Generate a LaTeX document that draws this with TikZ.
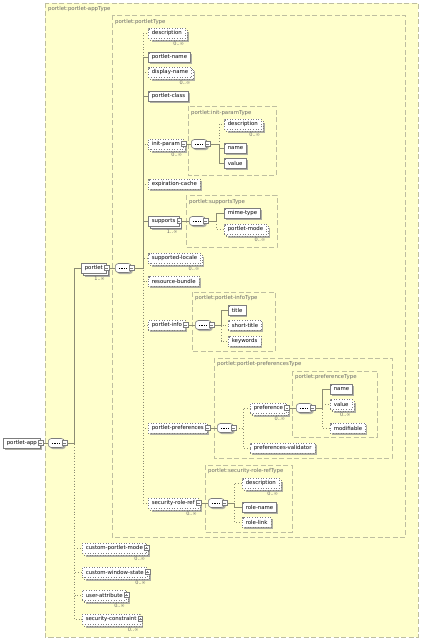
\documentclass[tikz,border=0pt]{standalone}
\usepackage{fontspec}
\newfontfamily\schemafont{DejaVu Sans}
\usetikzlibrary{shadows, positioning}
\definecolor{bgyellow}{RGB}{255, 255, 204}
\definecolor{dashgray}{RGB}{190, 190, 160}
\definecolor{elemgray}{RGB}{125, 125, 125}
\definecolor{linegray}{RGB}{140, 140, 115}
\definecolor{shadowgray}{RGB}{175, 175, 165}
\definecolor{labelgray}{RGB}{105, 105, 105}
\newcommand{\xsdsize}{\schemafont\fontsize{5.4}{6.5}\selectfont}

\tikzset{
  elem/.style={draw=elemgray, fill=white, line width=0.6pt, anchor=west, inner xsep=3.5pt, inner ysep=0pt, minimum height=10pt, font=\xsdsize, text=black},
  one/.style={drop shadow={shadow xshift=1.5pt, shadow yshift=-1.5pt, fill=shadowgray, opacity=1}},
  many/.style={drop shadow={shadow xshift=3.5pt, shadow yshift=-3.5pt, fill=shadowgray, opacity=1}, copy shadow={shadow xshift=2pt, shadow yshift=-2pt}},
  opt/.style={dotted},
  leaf/.style={path picture={\fill[elemgray] (path picture bounding box.north west) rectangle ++(2pt,-2pt);}},
  seq/.style={draw=elemgray, fill=white, line width=0.6pt, rounded corners=3pt, minimum width=16pt, minimum height=9pt, inner sep=0pt, anchor=west, one,
    path picture={\draw[black, line width=0.9pt, dash pattern=on 0.9pt off 0.9pt] ([xshift=-4.5pt]path picture bounding box.center) -- ([xshift=3.5pt]path picture bounding box.center);}},
  xminus/.style={draw=elemgray, fill=white, line width=0.5pt, minimum width=4.5pt, minimum height=5pt, inner sep=0pt,
    path picture={\draw[elemgray, line width=0.5pt] ([xshift=-1.3pt]path picture bounding box.center) -- ([xshift=1.3pt]path picture bounding box.center);}},
  xplus/.style={draw=elemgray, fill=white, line width=0.5pt, minimum width=4.5pt, minimum height=5pt, inner sep=0pt,
    path picture={\draw[elemgray, line width=0.5pt] ([xshift=-1.3pt]path picture bounding box.center) -- ([xshift=1.3pt]path picture bounding box.center) ([yshift=-1.3pt]path picture bounding box.center) -- ([yshift=1.3pt]path picture bounding box.center);}},
  card/.style={anchor=north east, inner sep=0.5pt, font=\schemafont\fontsize{5}{6}\selectfont, text=labelgray},
  typebox/.style={draw=dashgray, line width=0.8pt, dash pattern=on 5pt off 2.5pt},
  typelabel/.style={anchor=west, inner sep=0pt, font=\xsdsize, text=labelgray},
  req/.style={draw=linegray, line width=0.8pt},
  optl/.style={req, dotted}
}

\begin{document}
\begin{tikzpicture}[x=1pt, y=-1pt]
  \useasboundingbox (0,0) rectangle (422,640);

  % type areas
  \fill[bgyellow] (45,3) rectangle (418,637);
  \draw[typebox] (45,3) rectangle (418,637);
  \node[typelabel] (appType) at (48,9) {portlet:portlet-appType};
  \draw[typebox] (112,15) rectangle (405,537);
  \node[typelabel] (portletType) at (115,22) {portlet:portletType};
  \draw[typebox] (188,106) rectangle (276,175);
  \node[typelabel] (initType) at (191,113) {portlet:init-paramType};
  \draw[typebox] (186,195) rectangle (277,247);
  \node[typelabel] (suppType) at (189,202) {portlet:supportsType};
  \draw[typebox] (192,292) rectangle (275,351);
  \node[typelabel] (infoType) at (195,298) {portlet:portlet-infoType};
  \draw[typebox] (214,358) rectangle (392,458);
  \node[typelabel] (prefsType) at (217,364) {portlet:portlet-preferencesType};
  \draw[typebox] (292,371) rectangle (377,437);
  \node[typelabel] (prefType) at (295,377) {portlet:preferenceType};
  \draw[typebox] (205,465) rectangle (292,532);
  \node[typelabel] (roleType) at (208,471) {portlet:security-role-refType};

  % portlet-app
  \node[elem, one] (app) at (3,443) {portlet-app};
  \node[seq] (seqA) at (48,443) {};
  \node[elem, many] (portlet) at (81,268) {portlet};
  \node[elem, many, opt] (cpm) at (82,548) {custom-portlet-mode};
  \node[elem, many, opt] (cws) at (82,572) {custom-window-state};
  \node[elem, many, opt] (ua) at (82,595) {user-attribute};
  \node[elem, many, opt] (sc) at (82,619) {security-constraint};

  % portlet
  \node[seq] (seqP) at (115,268) {};
  \node[elem, many, opt, leaf] (desc) at (148,33) {description};
  \node[elem, one, leaf] (pname) at (148,57) {portlet-name};
  \node[elem, many, opt, leaf] (dname) at (148,72) {display-name};
  \node[elem, one, leaf] (pclass) at (148,96) {portlet-class};
  \node[elem, many, opt] (iparam) at (148,144) {init-param};
  \node[elem, one, opt, leaf] (ecache) at (148,184) {expiration-cache};
  \node[elem, many] (supp) at (148,221) {supports};
  \node[elem, many, opt, leaf] (sloc) at (148,258) {supported-locale};
  \node[elem, one, opt, leaf] (rbund) at (148,281) {resource-bundle};
  \node[elem, one, opt] (pinfo) at (148,325) {portlet-info};
  \node[elem, one, opt] (pprefs) at (148,428) {portlet-preferences};
  \node[elem, many, opt] (srref) at (148,503) {security-role-ref};

  % init-param
  \node[seq] (seqI) at (191,144) {};
  \node[elem, many, opt, leaf] (ipdesc) at (224,124) {description};
  \node[elem, one, leaf] (ipname) at (224,148) {name};
  \node[elem, one, leaf] (ipvalue) at (224,163) {value};

  % supports
  \node[seq] (seqS) at (189,221) {};
  \node[elem, one, leaf] (mime) at (224,213) {mime-type};
  \node[elem, many, opt, leaf] (pmode) at (224,229) {portlet-mode};

  % portlet-info
  \node[seq] (seqF) at (195,325) {};
  \node[elem, one, leaf] (title) at (228,310) {title};
  \node[elem, one, opt, leaf] (stitle) at (228,325) {short-title};
  \node[elem, one, opt, leaf] (kwords) at (228,341) {keywords};

  % portlet-preferences
  \node[seq] (seqR) at (217,428) {};
  \node[elem, many, opt] (pref) at (250,408) {preference};
  \node[elem, one, opt, leaf] (pvalid) at (250,448) {preferences-validator};
  \node[seq] (seqV) at (296,408) {};
  \node[elem, one, leaf] (prname) at (330,389) {name};
  \node[elem, many, opt, leaf] (prvalue) at (330,404) {value};
  \node[elem, one, opt, leaf] (prmod) at (330,428) {modifiable};

  % security-role-ref
  \node[seq] (seqL) at (208,503) {};
  \node[elem, many, opt, leaf] (srdesc) at (242,483) {description};
  \node[elem, one, leaf] (srname) at (242,507) {role-name};
  \node[elem, one, opt, leaf] (srlink) at (242,522) {role-link};

  % expand boxes
  \foreach \n in {app, portlet, iparam, supp, pinfo, pprefs, pref, srref, seqA, seqP, seqI, seqS, seqF, seqR, seqV, seqL}
    \node[xminus] (\n-x) at (\n.east) {};
  \foreach \n in {cpm, cws, ua, sc}
    \node[xplus] (\n-x) at (\n.east) {};

  % occurrences
  \foreach \n/\t in {portlet/1..∞, cpm/0..∞, cws/0..∞, ua/0..∞, sc/0..∞, desc/0..∞, dname/0..∞, iparam/0..∞, supp/1..∞, sloc/0..∞, srref/0..∞, ipdesc/0..∞, pmode/0..∞, pref/0..∞, prvalue/0..∞, srdesc/0..∞}
    \node[card] (\n-c) at ([xshift=-1pt, yshift=-2.5pt]\n.south east) {\t};

  % connectors
  \foreach \p/\s in {app/seqA, portlet/seqP, iparam/seqI, supp/seqS, pinfo/seqF, pprefs/seqR, pref/seqV, srref/seqL}
    \draw[req] (\p-x.east) -- (\s.west);
  \foreach \c/\l in {cpm/optl, cws/optl, ua/optl, sc/optl, portlet/req}
    \draw[\l] (seqA-x.east) -- ++(7pt,0) |- (\c.west);
  \foreach \c/\l in {desc/optl, dname/optl, ecache/optl, sloc/optl, rbund/optl, pinfo/optl, pprefs/optl, srref/optl, iparam/optl, pname/req, pclass/req, supp/req}
    \draw[\l] (seqP-x.east) -- ++(9pt,0) |- (\c.west);
  \foreach \c/\l in {ipdesc/optl, ipname/req, ipvalue/req}
    \draw[\l] (seqI-x.east) -- ++(9pt,0) |- (\c.west);
  \foreach \c/\l in {pmode/optl, mime/req}
    \draw[\l] (seqS-x.east) -- ++(8pt,0) |- (\c.west);
  \foreach \c/\l in {stitle/optl, kwords/optl, title/req}
    \draw[\l] (seqF-x.east) -- ++(7pt,0) |- (\c.west);
  \foreach \c/\l in {pref/optl, pvalid/optl}
    \draw[\l] (seqR-x.east) -- ++(7pt,0) |- (\c.west);
  \foreach \c/\l in {prvalue/optl, prmod/optl, prname/req}
    \draw[\l] (seqV-x.east) -- ++(7pt,0) |- (\c.west);
  \foreach \c/\l in {srdesc/optl, srlink/optl, srname/req}
    \draw[\l] (seqL-x.east) -- ++(7pt,0) |- (\c.west);
\end{tikzpicture}
\end{document}
